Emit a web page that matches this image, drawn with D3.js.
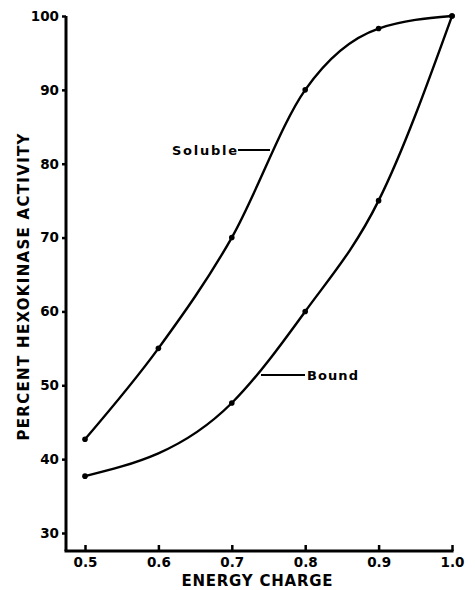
<!DOCTYPE html>
<html>
<head>
<meta charset="utf-8">
<script src="https://cdn.jsdelivr.net/npm/d3@7"></script>
<style>
  html, body { margin: 0; padding: 0; background: #fff; }
  svg { display: block; }
  text { font-family: "DejaVu Sans", "Liberation Sans", sans-serif; font-weight: bold; fill: #000; }
</style>
</head>
<body>
<svg id="chart" width="475" height="590"></svg>
<script>
const xTicks = [0.5, 0.6, 0.7, 0.8, 0.9, 1.0];
const xTickLabels = ["0.5", "0.6", "0.7", "0.8", "0.9", "1.0"];
const yTicks = [30, 40, 50, 60, 70, 80, 90, 100];
const solubleX = [0.5, 0.6, 0.7, 0.8, 0.9, 1.0];
const solubleY = [42.7, 55, 70, 90, 98.3, 100];
const boundX = [0.5, 0.7, 0.8, 0.9, 1.0];
const boundY = [37.7, 47.6, 60, 75, 100];

const svg = d3.select("#chart");
const x = d3.scaleLinear().domain([0.5, 1.0]).range([85, 452]);
const y = d3.scaleLinear().domain([30, 100]).range([533, 16]);

const axisX = 66, axisY = 551;

// axis lines
svg.append("line").attr("x1", axisX).attr("x2", axisX).attr("y1", y(100)).attr("y2", axisY)
  .attr("stroke", "#000").attr("stroke-width", 3);
svg.append("line").attr("x1", axisX - 1.5).attr("x2", x(1.0) + 1.5).attr("y1", axisY).attr("y2", axisY)
  .attr("stroke", "#000").attr("stroke-width", 3);

// y axis
const gy = svg.append("g").attr("transform", `translate(${axisX},0)`)
  .call(d3.axisLeft(y).tickValues(yTicks).tickSize(4).tickPadding(3).tickFormat(d3.format("d")));
gy.select(".domain").remove();
gy.selectAll(".tick line").attr("stroke-width", 2.5);
gy.selectAll(".tick text").style("font-size", "13.5px").style("font-family", "DejaVu Sans").style("font-weight", "bold");

// x axis
const gx = svg.append("g").attr("transform", `translate(0,${axisY})`)
  .call(d3.axisBottom(x).tickValues(xTicks).tickSize(-6).tickPadding(6)
    .tickFormat((d, i) => xTickLabels[i]));
gx.select(".domain").remove();
gx.selectAll(".tick line").attr("stroke-width", 2.5);
gx.selectAll(".tick text").style("font-size", "13.5px").style("font-family", "DejaVu Sans").style("font-weight", "bold");

// axis titles
svg.append("text").attr("x", 257).attr("y", 586).attr("text-anchor", "middle")
  .style("font-size", "15px").attr("textLength", 151).attr("lengthAdjust", "spacing")
  .text("ENERGY CHARGE");
svg.append("text").attr("transform", "translate(29,287) rotate(-90)").attr("text-anchor", "middle")
  .style("font-size", "15px").attr("textLength", 307).attr("lengthAdjust", "spacing")
  .text("PERCENT HEXOKINASE ACTIVITY");

// curves
const soluble = solubleX.map((v, i) => [v, solubleY[i]]);
const bound = boundX.map((v, i) => [v, boundY[i]]);
const line = d3.line().x(d => x(d[0])).y(d => y(d[1])).curve(d3.curveMonotoneX);
[soluble, bound].forEach(s => {
  svg.append("path").datum(s).attr("d", line).attr("fill", "none")
    .attr("stroke", "#000").attr("stroke-width", 2.4);
  svg.selectAll(null).data(s).enter().append("circle")
    .attr("cx", d => x(d[0])).attr("cy", d => y(d[1])).attr("r", 2.8).attr("fill", "#000");
});

// labels
svg.append("text").attr("x", 172).attr("y", 155).style("font-size", "13px")
  .attr("textLength", 65).attr("lengthAdjust", "spacing").text("Soluble");
svg.append("line").attr("x1", 238).attr("x2", 270).attr("y1", 150).attr("y2", 150)
  .attr("stroke", "#000").attr("stroke-width", 2);
svg.append("text").attr("x", 307).attr("y", 380).style("font-size", "13px")
  .attr("textLength", 51).attr("lengthAdjust", "spacing").text("Bound");
svg.append("line").attr("x1", 261).attr("x2", 305).attr("y1", 375).attr("y2", 375)
  .attr("stroke", "#000").attr("stroke-width", 2);
</script>
</body>
</html>
